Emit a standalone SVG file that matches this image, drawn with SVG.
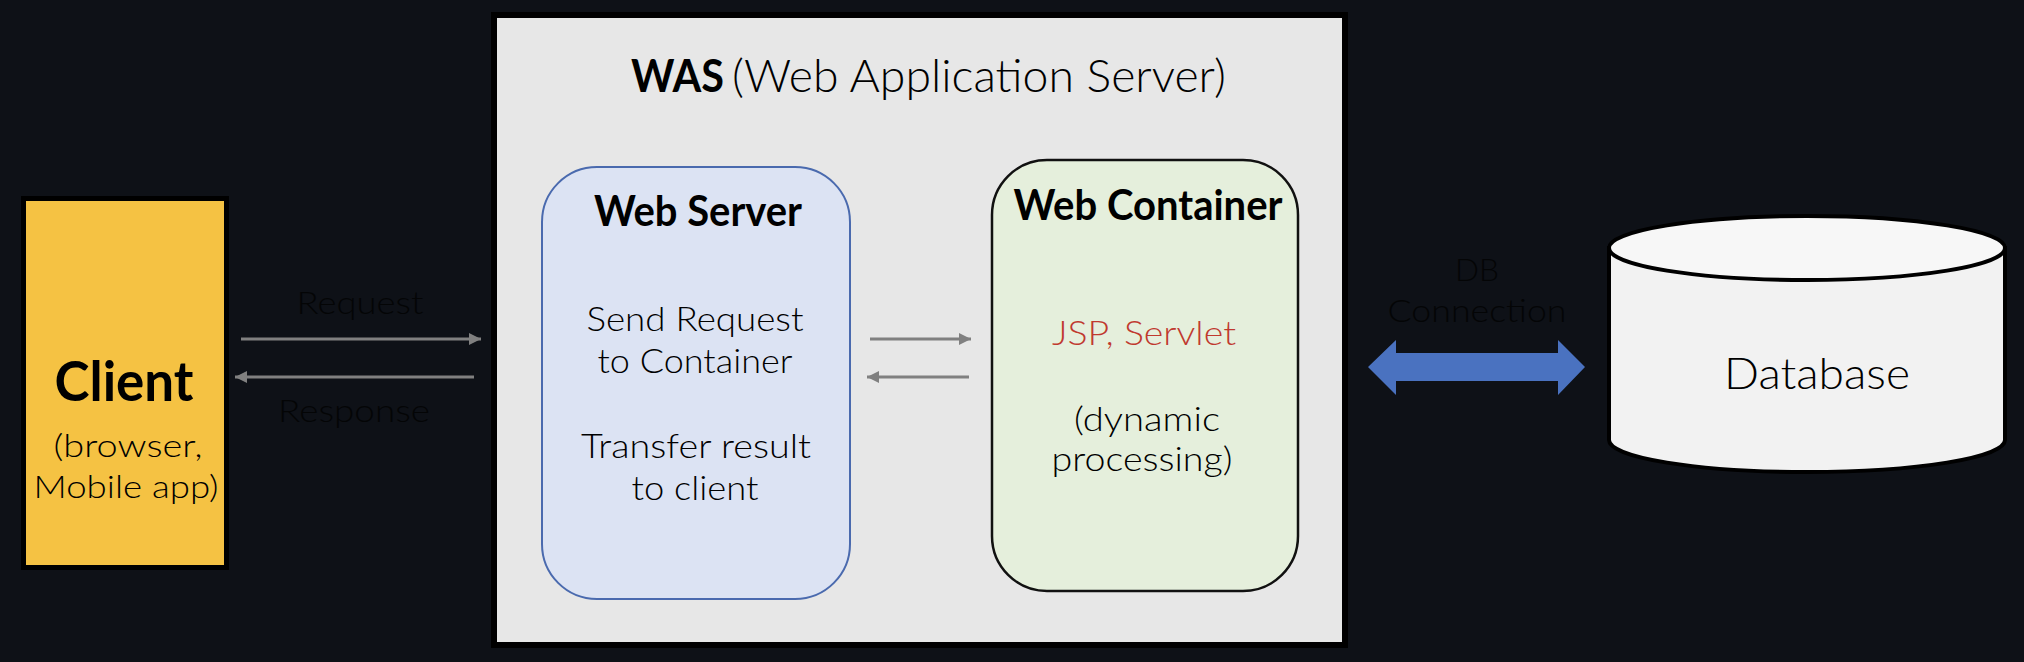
<svg xmlns="http://www.w3.org/2000/svg" width="2024" height="662" viewBox="0 0 2024 662">
<defs>
<style>
text{font-family:Lato,Roboto,"Liberation Sans",sans-serif;fill:#000;}
.lt{font-weight:300;}
.bd{font-weight:700;}
.mid{text-anchor:middle;}
.dim{fill:#040506;font-weight:300;}
.conn{stroke:#808080;stroke-width:3;fill:none;}
</style>
<marker id="ah" markerUnits="userSpaceOnUse" markerWidth="14" markerHeight="14" refX="12" refY="6" orient="auto">
<path d="M0,0 L12,6 L0,12 Z" fill="#808080"/>
</marker>
</defs>
<rect x="0" y="0" width="2024" height="662" fill="#0e1117"/>

<g id="client">
<rect x="23.5" y="198.5" width="203" height="369" fill="#f5c243" stroke="#000" stroke-width="5"/>
<text class="bd mid" x="124" y="401" font-size="55" textLength="139" lengthAdjust="spacingAndGlyphs">Client</text>
<text class="lt mid" x="128" y="457" font-size="32" textLength="149" lengthAdjust="spacingAndGlyphs">(browser,</text>
<text class="lt mid" x="126" y="498" font-size="32" textLength="185" lengthAdjust="spacingAndGlyphs">Mobile app)</text>
</g>

<g id="was">
<rect x="494" y="15" width="851" height="630" fill="#e7e7e7" stroke="#000" stroke-width="6"/>
<text class="bd" x="631" y="92" font-size="46" textLength="93" lengthAdjust="spacingAndGlyphs">WAS</text>
<text class="lt" x="732" y="92" font-size="46" textLength="494" lengthAdjust="spacingAndGlyphs">(Web Application Server)</text>
</g>

<g id="web-server">
<rect x="542" y="167" width="308" height="432" rx="55" ry="55" fill="#dce3f3" stroke="#4a6aae" stroke-width="2"/>
<text class="bd mid" x="698" y="226" font-size="42" textLength="208" lengthAdjust="spacingAndGlyphs">Web Server</text>
<text class="lt mid" x="695" y="331" font-size="34" textLength="217" lengthAdjust="spacingAndGlyphs">Send Request</text>
<text class="lt mid" x="695" y="373" font-size="34" textLength="195" lengthAdjust="spacingAndGlyphs">to Container</text>
<text class="lt mid" x="696" y="458" font-size="34" textLength="230" lengthAdjust="spacingAndGlyphs">Transfer result</text>
<text class="lt mid" x="695" y="500" font-size="34" textLength="127" lengthAdjust="spacingAndGlyphs">to client</text>
</g>

<g id="web-container">
<rect x="992" y="160" width="306" height="431" rx="55" ry="55" fill="#e5efdc" stroke="#111" stroke-width="2.5"/>
<text class="bd mid" x="1148" y="220" font-size="42" textLength="269" lengthAdjust="spacingAndGlyphs">Web Container</text>
<text class="lt mid" x="1144" y="345" font-size="34" textLength="184" lengthAdjust="spacingAndGlyphs" style="fill:#c0392f">JSP, Servlet</text>
<text class="lt mid" x="1147" y="431" font-size="34" textLength="146" lengthAdjust="spacingAndGlyphs">(dynamic</text>
<text class="lt mid" x="1142" y="471" font-size="34" textLength="181" lengthAdjust="spacingAndGlyphs">processing)</text>
</g>

<g id="database">
<path d="M1609,248 L1609,440 A198,32 0 0 0 2005,440 L2005,248 Z" fill="#f2f2f2" stroke="#000" stroke-width="4"/>
<ellipse cx="1807" cy="248" rx="198" ry="32" fill="#f7f7f7" stroke="#000" stroke-width="4"/>
<text class="lt mid" x="1817" y="389" font-size="44" textLength="186" lengthAdjust="spacingAndGlyphs">Database</text>
</g>

<g id="connectors">
<line class="conn" x1="241" y1="339" x2="481" y2="339" marker-end="url(#ah)"/>
<line class="conn" x1="474" y1="377" x2="235" y2="377" marker-end="url(#ah)"/>
<line class="conn" x1="870" y1="339" x2="971" y2="339" marker-end="url(#ah)"/>
<line class="conn" x1="969" y1="377" x2="867" y2="377" marker-end="url(#ah)"/>
<polygon points="1368,367 1396,340 1396,353 1558,353 1558,340 1585,367 1558,395 1558,381 1396,381 1396,395" fill="#4a72c0"/>
<text class="dim mid" x="360" y="314" font-size="32" textLength="127" lengthAdjust="spacingAndGlyphs">Request</text>
<text class="dim mid" x="354" y="422" font-size="32" textLength="152" lengthAdjust="spacingAndGlyphs">Response</text>
<text class="dim mid" x="1477" y="281" font-size="32" textLength="44" lengthAdjust="spacingAndGlyphs">DB</text>
<text class="dim mid" x="1477" y="322" font-size="32" textLength="179" lengthAdjust="spacingAndGlyphs">Connection</text>
</g>
</svg>
